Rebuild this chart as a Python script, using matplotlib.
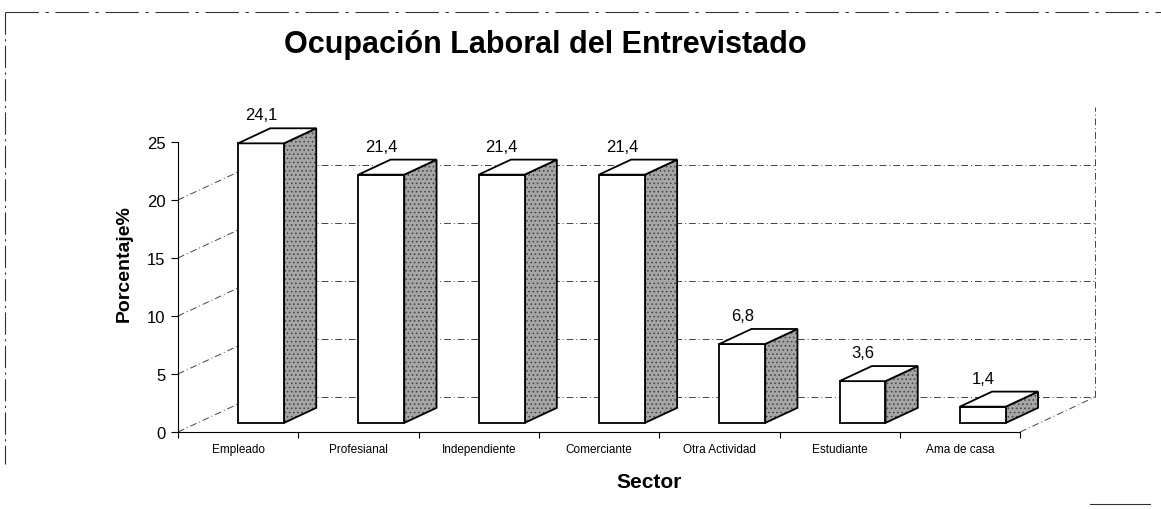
import matplotlib.pyplot as plt
from matplotlib.patches import Polygon
from matplotlib.lines import Line2D

plt.rcParams["font.family"] = ["Liberation Sans", "DejaVu Sans"]
plt.rcParams["hatch.linewidth"] = 0.7

# ── data ──
sectores = ["Empleado", "Profesianal", "Independiente", "Comerciante",
            "Otra Actividad", "Estudiante", "Ama de casa"]
porcentaje = [24.1, 21.4, 21.4, 21.4, 6.8, 3.6, 1.4]
etiquetas = ["24,1", "21,4", "21,4", "21,4", "6,8", "3,6", "1,4"]
y_ticks = [0, 5, 10, 15, 20, 25]

W, H = 1161, 510
fig = plt.figure(figsize=(W / 100, H / 100), dpi=100, facecolor="white")

# axes placed so that 1 slot = 120.3 px and 1 % = 11.6 px
px_slot, px_pct = 120.3, 11.6
x0_px, y0_px = 178, H - 433
x_max = (1120 - x0_px) / px_slot
y_max = (H - 95 - y0_px) / px_pct
ax = fig.add_axes([x0_px / W, y0_px / H, (1120 - x0_px) / W, (H - 95 - y0_px) / H])
ax.set_xlim(0, x_max)
ax.set_ylim(0, y_max)
ax.patch.set_visible(False)

# 3D depth of the floor
DX, DY = 75 / px_slot, 35 / px_pct
n = len(sectores)
ymax = 25
grid_kw = dict(color="#444444", lw=0.7, ls=(0, (7, 3, 1, 3)), zorder=1, clip_on=False)

# walls / gridlines (top edge of the wall is not visible in the scan)
for v in y_ticks[:-1]:
    ax.plot([0, DX], [v, v + DY], **grid_kw)
    ax.plot([DX, n + DX], [v + DY, v + DY], **grid_kw)
ax.plot([n + DX, n + DX], [DY, ymax + DY], **grid_kw)
ax.plot([n, n + DX], [0, DY], **grid_kw)

# bars
f0, f1 = 0.26, 0.69
bx, bw = 0.337, 0.382
for i, (v, lab) in enumerate(zip(porcentaje, etiquetas)):
    xl = i + bx + f0 * DX
    yb = f0 * DY
    xr = xl + bw
    ddx, ddy = (f1 - f0) * DX, (f1 - f0) * DY
    front = [(xl, yb), (xr, yb), (xr, yb + v), (xl, yb + v)]
    side = [(xr, yb), (xr + ddx, yb + ddy), (xr + ddx, yb + v + ddy), (xr, yb + v)]
    top = [(xl, yb + v), (xr, yb + v), (xr + ddx, yb + v + ddy), (xl + ddx, yb + v + ddy)]
    ax.add_patch(Polygon(side, closed=True, facecolor="#a6a6a6", edgecolor="#4a4a4a",
                         hatch="....", lw=0, zorder=3, clip_on=False))
    for poly, fc in [(side, "none"), (front, "white"), (top, "white")]:
        ax.add_patch(Polygon(poly, closed=True, facecolor=fc, edgecolor="black",
                             lw=1.3, zorder=4, clip_on=False))
    ax.text(xl + bw / 2, yb + v + ddy + 0.5, lab, ha="center", va="bottom",
            fontsize=12, zorder=5)

# axes
for s in ["top", "right"]:
    ax.spines[s].set_visible(False)
ax.spines["left"].set_bounds(0, ymax)
ax.spines["bottom"].set_bounds(0, n)
ax.spines["left"].set_linewidth(0.8)
ax.spines["bottom"].set_linewidth(0.8)
ax.set_yticks(y_ticks)
ax.set_yticklabels([str(t) for t in y_ticks], fontsize=12)
ax.tick_params(axis="y", length=5, width=0.8, pad=4)
ax.set_xticks([i + 0.5 for i in range(n)])
ax.set_xticklabels(sectores, fontsize=8.5)
ax.tick_params(axis="x", length=0, pad=8)
ax.set_xticks(range(n + 1), minor=True)
ax.tick_params(axis="x", which="minor", length=4, width=0.8)

ax.set_ylabel("Porcentaje%", fontsize=14, fontweight="bold", labelpad=10)
ax.set_xlabel("Sector", fontsize=15, fontweight="bold", labelpad=12)
fig.text(545 / W, 1 - 45 / H, "Ocupación Laboral del Entrevistado",
         ha="center", va="center", fontsize=22, fontweight="bold")

# scanned frame edges
fig.add_artist(Line2D([5 / W, 1], [1 - 13 / H, 1 - 13 / H], color="#333333", lw=0.8,
                      ls=(0, (30, 6, 3, 6))))
fig.add_artist(Line2D([5 / W, 5 / W], [1 - 13 / H, 1 - 465 / H], color="#333333", lw=0.8,
                      ls=(0, (20, 4, 2, 4))))
fig.add_artist(Line2D([1090 / W, 1150 / W], [1 - 505 / H, 1 - 505 / H], color="#333333", lw=0.8))

fig.savefig("out.png", dpi=100, facecolor="white")
